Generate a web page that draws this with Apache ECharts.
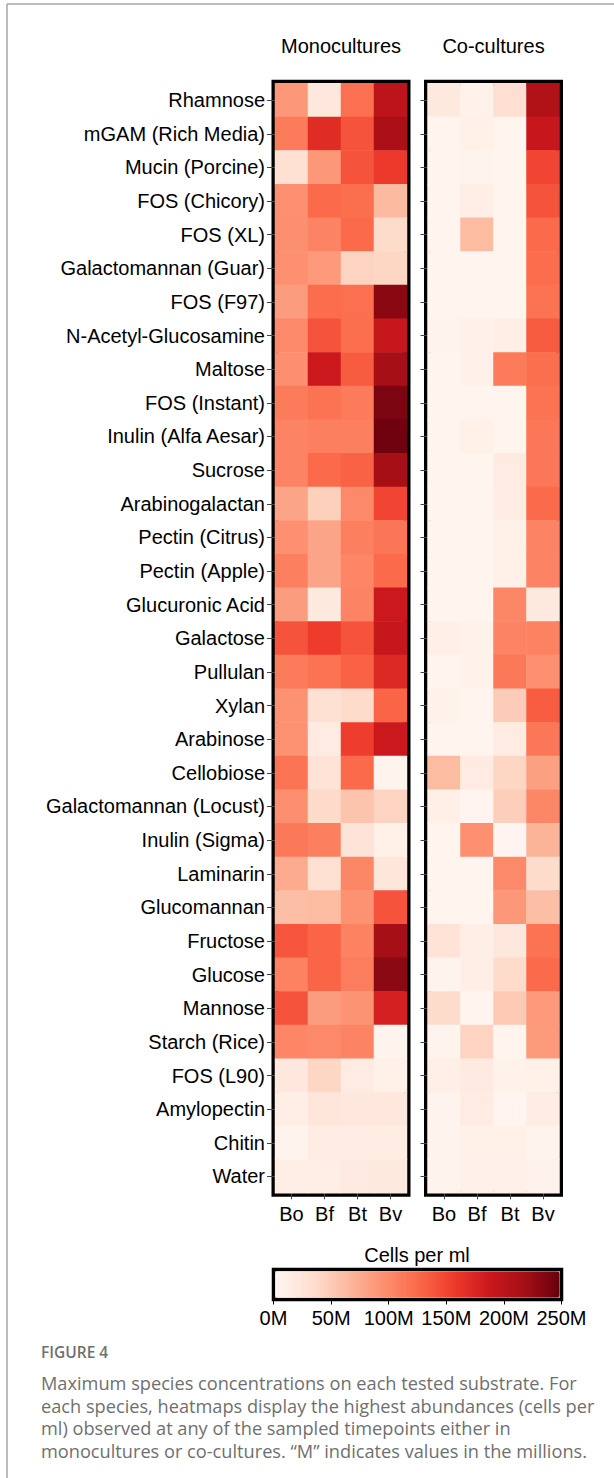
<!DOCTYPE html>
<html>
<head>
<meta charset="utf-8">
<script src="https://cdn.jsdelivr.net/npm/echarts@6/dist/echarts.min.js"></script>
<style>
  html, body { margin: 0; padding: 0; background: #fff; }
  #chart { width: 614px; height: 1478px; }
</style>
</head>
<body>
<div id="chart"></div>
<script>
// Substrates, top to bottom
const substrates = [
  'Rhamnose', 'mGAM (Rich Media)', 'Mucin (Porcine)', 'FOS (Chicory)', 'FOS (XL)',
  'Galactomannan (Guar)', 'FOS (F97)', 'N-Acetyl-Glucosamine', 'Maltose', 'FOS (Instant)',
  'Inulin (Alfa Aesar)', 'Sucrose', 'Arabinogalactan', 'Pectin (Citrus)', 'Pectin (Apple)',
  'Glucuronic Acid', 'Galactose', 'Pullulan', 'Xylan', 'Arabinose', 'Cellobiose',
  'Galactomannan (Locust)', 'Inulin (Sigma)', 'Laminarin', 'Glucomannan', 'Fructose',
  'Glucose', 'Mannose', 'Starch (Rice)', 'FOS (L90)', 'Amylopectin', 'Chitin', 'Water'
];
const species = ['Bo', 'Bf', 'Bt', 'Bv'];

// Maximum cells per ml (millions), monocultures
const monoBo = [90, 112, 30, 95, 96, 95, 86, 100, 96, 112, 105, 105, 80, 95, 108, 86, 140, 112, 94, 94, 117, 96, 114, 75, 60, 138, 106, 140, 103, 20, 11, 3, 10];
const monoBf = [20, 170, 90, 125, 105, 88, 123, 140, 188, 118, 108, 125, 45, 80, 80, 18, 156, 118, 30, 15, 27, 36, 108, 31, 62, 128, 128, 86, 101, 40, 22, 12, 11];
const monoBt = [120, 140, 140, 122, 124, 42, 120, 122, 135, 112, 108, 130, 100, 108, 103, 105, 140, 130, 35, 155, 124, 55, 25, 102, 94, 106, 110, 93, 105, 15, 20, 13, 17];
const monoBv = [200, 215, 158, 63, 35, 40, 233, 192, 218, 240, 246, 218, 150, 116, 125, 188, 192, 172, 128, 188, 3, 42, 8, 22, 140, 218, 232, 180, 3, 8, 20, 14, 18];

// Maximum cells per ml (millions), co-cultures
const coBo = [18, 2, 2, 2, 2, 2, 2, 3, 2, 2, 2, 2, 2, 2, 2, 2, 9, 2, 5, 2, 62, 9, 2, 2, 2, 27, 3, 35, 3, 9, 3, 3, 3];
const coBf = [5, 8, 3, 10, 62, 2, 2, 7, 6, 2, 8, 2, 2, 2, 2, 2, 5, 5, 2, 2, 15, 1, 95, 2, 2, 10, 10, 2, 42, 17, 15, 8, 6];
const coBt = [32, 2, 2, 2, 2, 2, 2, 10, 112, 2, 2, 15, 14, 8, 8, 102, 105, 114, 48, 15, 40, 46, 1, 100, 90, 20, 35, 50, 2, 5, 1, 8, 6];
const coBv = [210, 190, 150, 140, 125, 123, 118, 135, 122, 118, 115, 115, 124, 105, 105, 18, 106, 95, 134, 115, 83, 102, 68, 35, 60, 118, 124, 88, 88, 8, 14, 3, 4];

// Colour scale
const scaleMin = 0;
const scaleMax = 250;
const scaleStep = 50;
const redsRamp = ['#fff5f0', '#fee0d2', '#fcbba1', '#fc9272', '#fb6a4a', '#ef3b2c', '#cb181d', '#a50f15', '#67000d'];

function toCells(columns) {
  const out = [];
  columns.forEach((col, x) => col.forEach((v, y) => out.push([x, y, v])));
  return out;
}

const LABEL_FONT = "'Liberation Sans', Arial, Helvetica, sans-serif";
const CAPTION_FONT = "'Open Sans', Lato, sans-serif";

const panelTop = 83.3;
const panelHeight = 1110;
const panelWidth = 132;

function panelXAxis(gridIndex) {
  return {
    type: 'category', gridIndex, data: species, position: 'bottom',
    axisLine: { show: false },
    axisTick: { show: true, alignWithLabel: true, length: 6, lineStyle: { color: '#444', width: 1 } },
    axisLabel: { margin: 11, fontSize: 20, color: '#000', fontFamily: LABEL_FONT },
    splitLine: { show: false }
  };
}
function panelYAxis(gridIndex, showLabels, tickLen) {
  return {
    type: 'category', gridIndex, data: substrates, inverse: true,
    axisLine: { show: false },
    axisTick: { show: true, alignWithLabel: true, length: tickLen, lineStyle: { color: '#444', width: 1 } },
    axisLabel: { show: showLabels, margin: 10, fontSize: 20, color: '#000', fontFamily: LABEL_FONT },
    splitLine: { show: false }
  };
}

const chart = echarts.init(document.getElementById('chart'), null, { renderer: 'svg' });

chart.setOption({
  backgroundColor: '#fff',
  animation: false,
  grid: [
    { left: 275, top: panelTop, width: panelWidth, height: panelHeight, show: true, borderColor: '#000', borderWidth: 7, backgroundColor: 'transparent' },
    { left: 427.5, top: panelTop, width: panelWidth, height: panelHeight, show: true, borderColor: '#000', borderWidth: 7, backgroundColor: 'transparent' },
    { left: 273.5, top: 1269.5, width: 288, height: 30, show: true, borderColor: '#000', borderWidth: 3.5, backgroundColor: 'transparent' }
  ],
  xAxis: [
    panelXAxis(0),
    panelXAxis(1),
    {
      type: 'value', gridIndex: 2, min: scaleMin, max: scaleMax, interval: scaleStep,
      axisLine: { show: false },
      axisTick: { show: true, length: 5, lineStyle: { color: '#000', width: 1 } },
      axisLabel: { margin: 8, fontSize: 20, color: '#000', fontFamily: LABEL_FONT, formatter: '{value}M' },
      splitLine: { show: false }
    }
  ],
  yAxis: [
    panelYAxis(0, true, 8),
    panelYAxis(1, false, 7),
    { type: 'value', gridIndex: 2, show: false }
  ],
  visualMap: {
    type: 'continuous', min: scaleMin, max: scaleMax, orient: 'horizontal',
    left: 275.25, top: 1271.25, itemWidth: 26.5, itemHeight: 284.5,
    padding: 0, calculable: false, hoverLink: false, text: null,
    seriesIndex: [0, 1],
    inRange: { color: redsRamp }
  },
  series: [
    { type: 'heatmap', name: 'Monocultures', xAxisIndex: 0, yAxisIndex: 0, data: toCells([monoBo, monoBf, monoBt, monoBv]), itemStyle: { borderWidth: 0 } },
    { type: 'heatmap', name: 'Co-cultures', xAxisIndex: 1, yAxisIndex: 1, data: toCells([coBo, coBf, coBt, coBv]), itemStyle: { borderWidth: 0 } }
  ],
  graphic: [
    // figure frame (top and left rules)
    { type: 'line', shape: { x1: 7, y1: 4, x2: 614, y2: 4 }, style: { stroke: '#a6a6a6', lineWidth: 1.5 } },
    { type: 'line', shape: { x1: 7, y1: 4, x2: 7, y2: 1478 }, style: { stroke: '#a6a6a6', lineWidth: 1.5 } },
    // panel headings
    { type: 'text', x: 341, y: 46, style: { text: 'Monocultures', font: '20px ' + LABEL_FONT, fill: '#000', textAlign: 'center', textVerticalAlign: 'middle' } },
    { type: 'text', x: 493.5, y: 46, style: { text: 'Co-cultures', font: '20px ' + LABEL_FONT, fill: '#000', textAlign: 'center', textVerticalAlign: 'middle' } },
    // colour bar title
    { type: 'text', x: 417, y: 1255, style: { text: 'Cells per ml', font: '20px ' + LABEL_FONT, fill: '#000', textAlign: 'center', textVerticalAlign: 'middle' } },
    // caption
    { type: 'text', x: 41, y: 1352, style: { text: 'FIGURE 4', font: '600 15.5px ' + CAPTION_FONT, fill: '#6f6f6f', textVerticalAlign: 'middle' } },
    { type: 'text', x: 41, y: 1372, style: {
        text: 'Maximum species concentrations on each tested substrate. For\neach species, heatmaps display the highest abundances (cells per\nml) observed at any of the sampled timepoints either in\nmonocultures or co-cultures. \u201cM\u201d indicates values in the millions.',
        font: '18.2px ' + CAPTION_FONT, fill: '#6f6f6f', lineHeight: 22.5, textVerticalAlign: 'top' } }
  ]
});
</script>
</body>
</html>
